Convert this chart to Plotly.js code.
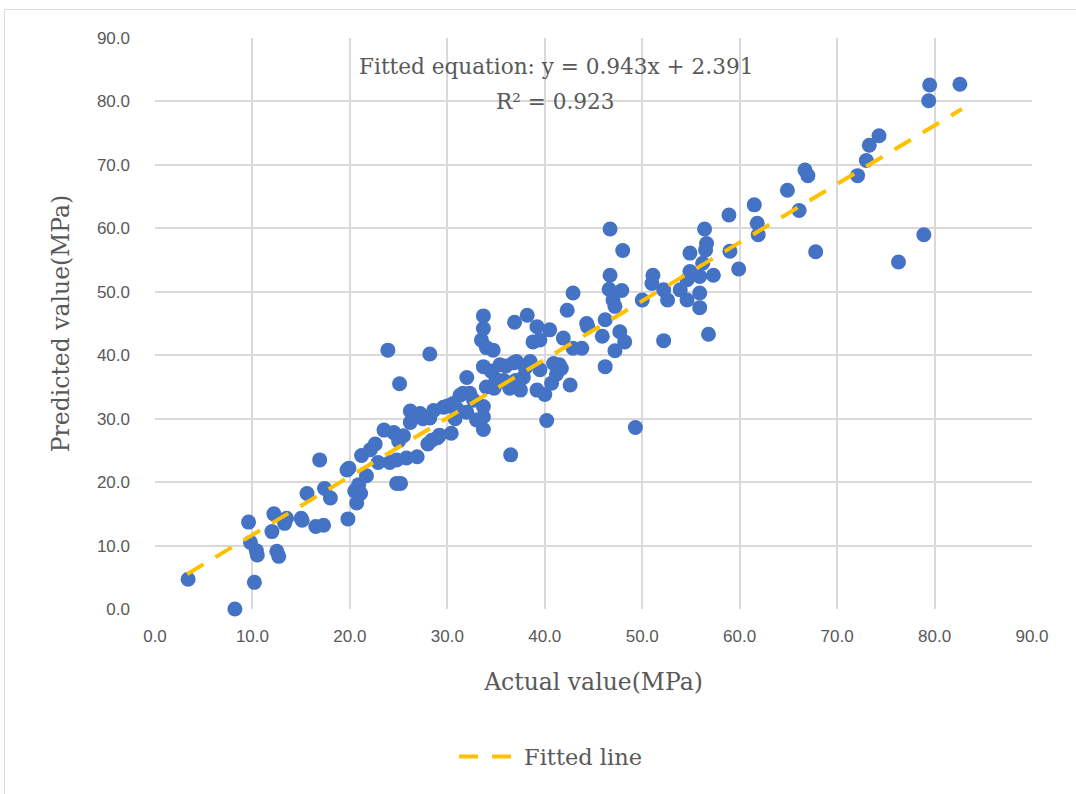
<!DOCTYPE html>
<html>
<head>
<meta charset="utf-8">
<script src="https://cdn.plot.ly/plotly-3.0.1.min.js"></script>
<style>
html,body{margin:0;padding:0;background:#fff;}
#frame{position:absolute;left:4px;top:9px;width:1090px;height:800px;border:1px solid #d9d9d9;box-sizing:border-box;pointer-events:none;}
#chart{position:absolute;left:0;top:0;width:1076px;height:794px;}
</style>
</head>
<body>
<div id="chart"></div>
<div id="frame"></div>
<script>
const actualValues = [3.4,8.2,9.6,9.8,10.2,10.4,10.5,12.0,12.2,12.5,12.7,13.3,13.5,15.0,15.1,15.6,16.5,16.9,17.3,17.4,18.0,19.7,19.9,19.8,20.5,20.7,20.9,21.1,21.2,21.7,22.1,22.6,22.9,23.5,23.9,24.1,24.5,24.8,25.2,25.1,24.8,25.0,25.5,25.8,26.2,26.2,26.9,27.2,28.0,28.2,28.2,28.4,28.6,29.2,29.6,30.0,30.4,30.6,31.3,31.6,32.0,32.0,32.3,32.7,33.0,33.5,33.7,33.7,33.7,33.7,33.7,33.7,34.0,34.0,34.5,34.7,35.4,35.8,36.4,36.5,36.9,37.1,37.5,37.8,38.2,38.5,38.8,39.2,39.2,39.5,39.5,40.0,40.2,40.5,40.7,40.9,41.2,41.7,41.9,42.3,42.6,42.9,42.9,43.8,44.3,44.4,45.9,46.2,46.2,46.7,46.7,46.6,47.0,47.2,47.2,47.7,47.9,48.0,48.2,49.3,50.0,51.1,51.0,52.2,52.6,52.2,53.9,54.6,54.6,54.9,54.9,55.9,55.9,55.9,56.4,56.6,56.5,57.3,56.8,56.2,58.9,59.0,59.9,61.5,61.8,61.9,64.9,66.1,66.7,67.0,67.8,72.1,73.0,73.3,74.3,76.3,78.9,79.4,79.5,82.6,35.0,36.0,37.0,38.0,31.0,30.8,29.0,27.5,26.8,34.8,36.8,41.5];
const predictedValues = [4.7,0.0,13.7,10.5,4.2,9.2,8.5,12.2,15.0,9.1,8.3,13.5,14.3,14.3,14.0,18.2,13.0,23.5,13.2,19.0,17.5,21.9,22.2,14.2,18.6,16.7,19.6,18.2,24.2,21.0,25.1,26.0,23.1,28.2,40.8,23.1,27.8,19.8,19.8,35.5,23.5,26.5,27.3,23.8,31.2,29.4,24.0,30.8,26.0,30.1,40.2,26.6,31.3,27.4,31.8,32.0,27.7,32.4,33.7,34.0,36.5,31.0,34.0,32.9,29.8,42.4,46.2,44.2,38.2,31.9,30.3,28.3,35.0,41.2,37.5,40.8,38.5,36.0,34.8,24.3,45.2,39.0,34.5,36.5,46.3,39.0,42.1,44.5,34.5,42.4,37.7,33.8,29.7,44.0,35.6,38.7,37.0,37.9,42.7,47.1,35.3,41.1,49.8,41.1,45.0,44.5,43.0,45.6,38.2,59.9,52.6,50.4,48.7,47.7,40.7,43.7,50.2,56.5,42.1,28.6,48.7,52.6,51.3,50.3,48.7,42.3,50.3,48.7,51.9,56.1,53.2,52.4,49.8,47.5,59.9,57.6,56.6,52.6,43.3,54.5,62.1,56.4,53.6,63.7,60.8,59.0,66.0,62.8,69.2,68.3,56.3,68.3,70.7,73.1,74.6,54.7,59.0,80.1,82.6,82.7,36.2,38.3,36.0,38.0,31.5,30.0,27.0,30.0,30.5,34.8,38.8,38.5];
const fitLineX = [3.3, 82.8];
const fitLineY = [5.5, 78.8];
const tickValues = [0,10,20,30,40,50,60,70,80,90];
const equationText = "Fitted equation: y = 0.943x + 2.391";
const r2Text = "R² = 0.923";

const serif = "DejaVu Serif, Liberation Serif, serif";
const sans = "Liberation Sans Narrow, Liberation Sans, Arial, sans-serif";
const grey = "#595959";

const traces = [
  {x: actualValues, y: predictedValues, type: 'scatter', mode: 'markers',
   marker: {color: '#4472C4', size: 15, line: {width: 0}},
   showlegend: false, cliponaxis: false, hoverinfo: 'x+y'},
  {x: fitLineX, y: fitLineY, type: 'scatter', mode: 'lines', name: 'Fitted line',
   line: {color: '#FFC000', width: 4, dash: '19px,14px'}}
];

const axisCommon = {
  range: [0, 90], tickvals: tickValues, tickformat: '.1f',
  showgrid: true, gridcolor: '#d9d9d9', gridwidth: 2,
  zeroline: false, showline: false, ticks: '',
  tickfont: {family: sans, size: 17, color: grey}
};

const layout = {
  width: 1076, height: 794,
  margin: {l: 155, r: 44, t: 38, b: 185},
  paper_bgcolor: '#fff', plot_bgcolor: '#fff',
  xaxis: Object.assign({}, axisCommon, {
    title: {text: 'Actual value(MPa)', font: {family: serif, size: 23.5, color: grey}, standoff: 28},
    ticklabelstandoff: 15
  }),
  yaxis: Object.assign({}, axisCommon, {
    title: {text: 'Predicted value(MPa)', font: {family: serif, size: 23.5, color: grey}, standoff: 20},
    ticklabelstandoff: 24
  }),
  showlegend: true,
  legend: {orientation: 'h', x: 0.451, xanchor: 'center', y: -0.259, yanchor: 'middle',
           font: {family: serif, size: 22.5, color: grey}, itemwidth: 60, bgcolor: 'rgba(0,0,0,0)'},
  annotations: [
    {text: equationText, xref: 'paper', yref: 'paper', x: 0.457, y: (609-67)/571, xanchor: 'center', yanchor: 'middle',
     showarrow: false, font: {family: serif, size: 21.6, color: grey}},
    {text: r2Text, xref: 'paper', yref: 'paper', x: 0.457, y: (609-101)/571, xanchor: 'center', yanchor: 'middle',
     showarrow: false, font: {family: serif, size: 21.6, color: grey}}
  ]
};

Plotly.newPlot('chart', traces, layout, {displayModeBar: false, staticPlot: true});
</script>
</body>
</html>
